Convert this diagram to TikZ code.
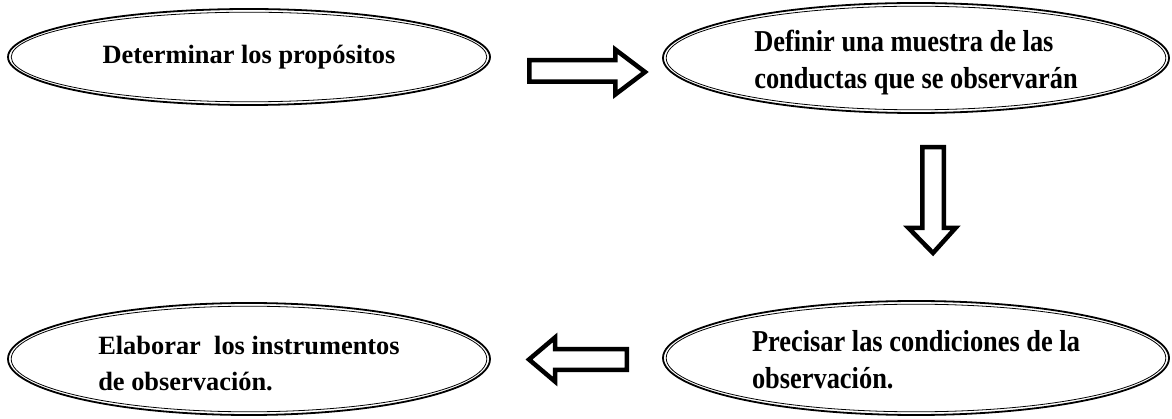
\documentclass[tikz,border=0pt]{standalone}
\usepackage{fontspec}
\usepackage{graphicx}
\setmainfont{Liberation Serif}
\usetikzlibrary{shapes.geometric}
\begin{document}
\begin{tikzpicture}[x=1pt,y=-1pt,
  bubble/.style={ellipse, draw, line width=1.8pt, inner sep=0pt},
  innerring/.style={line width=0.8pt},
  btext/.style={align=left, inner sep=0pt, font=\bfseries\fontsize{26.4}{36}\selectfont},
  blockarrow/.style={draw, fill=white, line width=4.5pt, line join=miter}]
\useasboundingbox (0,0) rectangle (1172,419);

% ellipses
\node[bubble, minimum width=482pt, minimum height=96pt] (e1) at (249,57) {};
\node[bubble, minimum width=506pt, minimum height=110pt] (e2) at (916,58) {};
\node[bubble, minimum width=506pt, minimum height=114pt] (e3) at (916,358) {};
\node[bubble, minimum width=482pt, minimum height=112pt] (e4) at (249,359) {};

\draw[innerring] (e1.center) ellipse [x radius=237.8pt, y radius=44.8pt];
\draw[innerring] (e2.center) ellipse [x radius=249.8pt, y radius=51.8pt];
\draw[innerring] (e3.center) ellipse [x radius=249.8pt, y radius=53.8pt];
\draw[innerring] (e4.center) ellipse [x radius=237.8pt, y radius=52.8pt];

% texts
\node[btext] (t1) at (e1.center) {Determinar los propósitos};
\node[btext] (t2) at ([yshift=-5pt]e2.center)
  {\scalebox{1}[1.15]{\fontsize{26.4}{32}\selectfont\begin{tabular}{@{}l@{}}Definir una muestra de las\\conductas que se observarán\end{tabular}}};
\node[btext] (t3) at ([yshift=-5pt]e3.center)
  {\scalebox{1}[1.15]{\fontsize{26.4}{32}\selectfont\begin{tabular}{@{}l@{}}Precisar las condiciones de la\\observación.\end{tabular}}};
\node[btext] (t4) at ([yshift=-5pt]e4.center) {Elaborar\ \ los instrumentos\\de observación.};

% block arrows
\draw[blockarrow] (529.25,60.25) -- (615.25,60.25) -- (615.25,49.5) -- (645,72)
  -- (615.25,94.5) -- (615.25,81.75) -- (529.25,81.75) -- cycle;
\draw[blockarrow] (922.25,147.25) -- (943.75,147.25) -- (943.75,228) -- (955.5,228)
  -- (933,253) -- (908.5,228) -- (922.25,228) -- cycle;
\draw[blockarrow] (626.75,349.25) -- (555,349.25) -- (555,337.5) -- (529,359.5)
  -- (555,381.5) -- (555,369.75) -- (626.75,369.75) -- cycle;
\end{tikzpicture}
\end{document}
